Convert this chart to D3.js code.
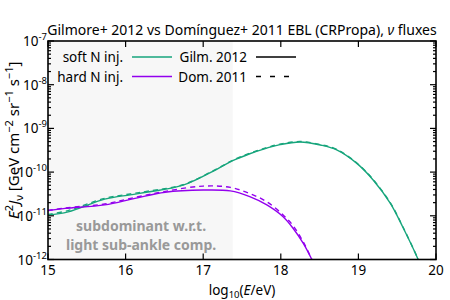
<!DOCTYPE html>
<html>
<head>
<meta charset="utf-8">
<script src="https://cdn.jsdelivr.net/npm/d3@7"></script>
<style>
  body { margin: 0; background: #fff; }
  svg { font-family: "Noto Sans", "Open Sans", sans-serif; }
</style>
</head>
<body>
<div id="chart"></div>
<script>
// log10(E/eV) sample points and log10 flux values
var softE   = [15.0, 15.26, 15.73, 16.06, 16.31, 16.74, 17.18, 17.38, 17.6, 17.82, 17.99, 18.25, 18.51, 18.72, 18.98, 19.19, 19.41, 19.57, 19.77, 19.9];
var softGil = [-10.98, -10.91, -10.62, -10.52, -10.45, -10.3, -9.93, -9.74, -9.58, -9.45, -9.37, -9.31, -9.38, -9.49, -9.8, -10.18, -10.71, -11.25, -12.0, -12.6];
var softDom = [-10.97, -10.88, -10.6, -10.5, -10.43, -10.29, -9.92, -9.73, -9.57, -9.44, -9.36, -9.3, -9.37, -9.48, -9.79, -10.17, -10.7, -11.24, -12.0, -12.6];

var hardE   = [15.0, 15.22, 15.73, 16.12, 16.51, 17.0, 17.35, 17.6, 17.82, 18.03, 18.16, 18.29, 18.4, 18.5];
var hardGil = [-10.88, -10.83, -10.75, -10.6, -10.46, -10.41, -10.43, -10.56, -10.75, -11.02, -11.29, -11.63, -12.0, -12.4];
var hardDom = [-10.88, -10.82, -10.73, -10.58, -10.44, -10.32, -10.35, -10.49, -10.68, -10.98, -11.23, -11.6, -12.0, -12.4];

var xTicks = [15, 16, 17, 18, 19, 20];
var yExps  = [-12, -11, -10, -9, -8, -7];
var shadeTo = 17.38;

var width = 450, height = 300;
var margin = {left: 48, right: 14, top: 41, bottom: 40.5};
var green = "#17a57c", purple = "#9300ee";

var svg = d3.select("#chart").append("svg")
    .attr("width", width)
    .attr("height", height);

var x = d3.scaleLinear().domain([15, 20]).range([margin.left, width - margin.right]);
var y = d3.scaleLog().domain([1e-12, 1e-7]).range([height - margin.bottom, margin.top]);

svg.append("defs").append("clipPath").attr("id", "clip")
  .append("rect")
    .attr("x", x(15)).attr("y", y(1e-7))
    .attr("width", x(20) - x(15)).attr("height", y(1e-12) - y(1e-7));

//Shaded region for the subdominant energies
svg.append("rect")
    .attr("x", x(15)).attr("y", y(1e-7))
    .attr("width", x(shadeTo) - x(15))
    .attr("height", y(1e-12) - y(1e-7))
    .attr("fill", "#f7f7f7");

svg.append("text")
    .attr("x", x(16.2)).attr("y", 231)
    .attr("text-anchor", "middle")
    .attr("font-size", 14).attr("font-weight", "bold").attr("fill", "#999")
    .text("subdominant w.r.t.");
svg.append("text")
    .attr("x", x(16.2)).attr("y", 250)
    .attr("text-anchor", "middle")
    .attr("font-size", 14).attr("font-weight", "bold").attr("fill", "#999")
    .text("light sub-ankle comp.");

//Curves
var line = d3.line()
    .x(function(d) { return x(d[0]); })
    .y(function(d) { return y(Math.pow(10, d[1])); })
    .curve(d3.curveCatmullRom.alpha(0.5));

var curves = [
    {e: softE, v: softDom, c: green, dash: "5,4"},
    {e: hardE, v: hardDom, c: purple, dash: "5,4"},
    {e: softE, v: softGil, c: green, dash: null},
    {e: hardE, v: hardGil, c: purple, dash: null}
];

var g = svg.append("g").attr("clip-path", "url(#clip)");
curves.forEach(function(cv) {
    g.append("path")
        .datum(d3.zip(cv.e, cv.v))
        .attr("d", line)
        .attr("fill", "none")
        .attr("stroke", cv.c)
        .attr("stroke-width", 1.4)
        .attr("stroke-dasharray", cv.dash);
});

//Frame and ticks
var x0 = x(15), x1 = x(20), y0 = y(1e-12), y1 = y(1e-7);
svg.append("rect")
    .attr("x", x0).attr("y", y1)
    .attr("width", x1 - x0).attr("height", y0 - y1)
    .attr("fill", "none").attr("stroke", "#000").attr("stroke-width", 1.6);

var ticks = svg.append("g").attr("stroke", "#000").attr("stroke-width", 1.2);
xTicks.forEach(function(t) {
    ticks.append("line").attr("x1", x(t)).attr("x2", x(t)).attr("y1", y0).attr("y2", y0 - 6);
    ticks.append("line").attr("x1", x(t)).attr("x2", x(t)).attr("y1", y1).attr("y2", y1 + 6);
});
yExps.forEach(function(p) {
    for (var k = 1; k <= 9; k++) {
        var v = k * Math.pow(10, p);
        if (v > 1e-7) break;
        var len = k === 1 ? 6 : 3;
        ticks.append("line").attr("x1", x0).attr("x2", x0 + len).attr("y1", y(v)).attr("y2", y(v));
        ticks.append("line").attr("x1", x1).attr("x2", x1 - len).attr("y1", y(v)).attr("y2", y(v));
    }
});

//Tick labels
svg.selectAll(".xlab").data(xTicks).enter().append("text")
    .attr("class", "xlab")
    .attr("x", function(d) { return x(d); })
    .attr("y", 275)
    .attr("text-anchor", "middle")
    .attr("font-size", 13.5)
    .text(function(d) { return d; });

var ylab = svg.selectAll(".ylab").data(yExps).enter().append("text")
    .attr("class", "ylab")
    .attr("x", x0 - 1)
    .attr("y", function(d) { return y(Math.pow(10, d)) + 5; })
    .attr("text-anchor", "end")
    .attr("font-size", 13.5);
ylab.append("tspan").text("10");
ylab.append("tspan").attr("dy", -6).attr("font-size", 9.5)
    .text(function(d) { return String(d); });

//Axis titles
var xt = svg.append("text")
    .attr("x", (x0 + x1) / 2).attr("y", 295)
    .attr("text-anchor", "middle").attr("font-size", 13.5);
xt.append("tspan").text("log");
xt.append("tspan").attr("dy", 3).attr("font-size", 9.5).text("10");
xt.append("tspan").attr("dy", -3).text("(");
xt.append("tspan").attr("font-style", "italic").text("E");
xt.append("tspan").text("/eV)");

var yt = svg.append("text")
    .attr("transform", "translate(19," + ((y0 + y1) / 2 - 10) + ") rotate(-90)")
    .attr("text-anchor", "middle").attr("font-size", 15);
yt.append("tspan").attr("font-style", "italic").text("E");
yt.append("tspan").attr("dy", -6).attr("font-size", 11).text("2");
yt.append("tspan").attr("dy", 6).attr("font-style", "italic").text("J");
yt.append("tspan").attr("dy", 4).attr("font-size", 11).text("ν");
yt.append("tspan").attr("dy", -4).text(" [GeV cm");
yt.append("tspan").attr("dy", -6).attr("font-size", 11).text("−2");
yt.append("tspan").attr("dy", 6).text(" sr");
yt.append("tspan").attr("dy", -6).attr("font-size", 11).text("−1");
yt.append("tspan").attr("dy", 6).text(" s");
yt.append("tspan").attr("dy", -6).attr("font-size", 11).text("−1");
yt.append("tspan").attr("dy", 6).text("]");

//Title
var title = svg.append("text")
    .attr("x", (x0 + x1) / 2).attr("y", 35)
    .attr("text-anchor", "middle").attr("font-size", 14);
title.append("tspan").text("Gilmore+ 2012 vs Domínguez+ 2011 EBL (CRPropa), ");
title.append("tspan").attr("font-style", "italic").text("ν");
title.append("tspan").text(" fluxes");

//Legend
var legendRows = [
    {name: "soft N inj.", c: green, model: "Gilm. 2012", dash: null},
    {name: "hard N inj.", c: purple, model: "Dom. 2011", dash: "5,9"}
];
legendRows.forEach(function(r, i) {
    var ly = 57 + i * 19.5;
    svg.append("text").attr("x", 123).attr("y", ly + 5)
        .attr("text-anchor", "end").attr("font-size", 13.5).text(r.name);
    svg.append("line").attr("x1", 132).attr("x2", 172).attr("y1", ly).attr("y2", ly)
        .attr("stroke", r.c).attr("stroke-width", 1.4);
    svg.append("text").attr("x", 247).attr("y", ly + 5)
        .attr("text-anchor", "end").attr("font-size", 13.5).text(r.model);
    svg.append("line").attr("x1", 256).attr("x2", 296).attr("y1", ly).attr("y2", ly)
        .attr("stroke", "#000").attr("stroke-width", 1.4)
        .attr("stroke-dasharray", r.dash);
});
</script>
</body>
</html>
